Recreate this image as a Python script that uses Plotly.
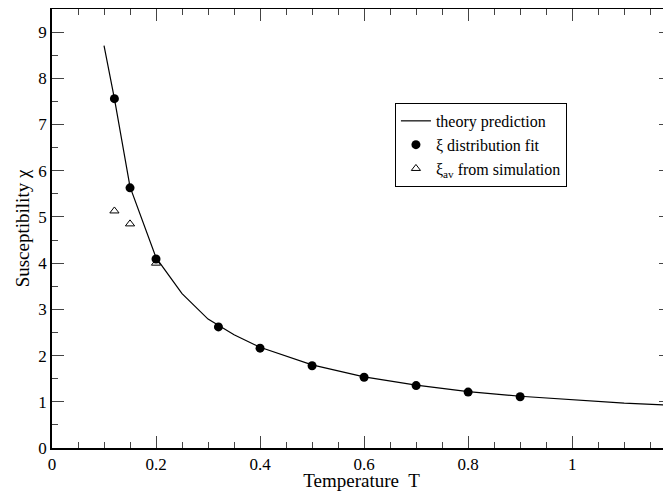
import plotly.graph_objects as go

# Theory prediction curve
theory_T = [0.10, 0.12, 0.15, 0.20, 0.25, 0.30, 0.35, 0.40, 0.50, 0.60, 0.70, 0.80, 0.90, 1.00, 1.10, 1.20]
theory_chi = [8.71, 7.56, 5.65, 4.12, 3.34, 2.79, 2.45, 2.18, 1.80, 1.54, 1.36, 1.22, 1.12, 1.04, 0.97, 0.92]

# xi distribution fit (filled circles)
fit_T = [0.12, 0.15, 0.20, 0.32, 0.40, 0.50, 0.60, 0.70, 0.80, 0.90]
fit_chi = [7.56, 5.63, 4.09, 2.62, 2.16, 1.78, 1.53, 1.35, 1.21, 1.11]

# xi_av from simulation (open triangles)
sim_T = [0.12, 0.15, 0.20]
sim_chi = [5.13, 4.85, 4.00]

serif = "Liberation Serif"

fig = go.Figure()
fig.add_trace(go.Scatter(x=theory_T, y=theory_chi, mode="lines",
                         line=dict(color="black", width=1.2),
                         name="theory prediction"))
fig.add_trace(go.Scatter(x=fit_T, y=fit_chi, mode="markers",
                         marker=dict(symbol="circle", size=9, color="black"),
                         name="ξ distribution fit"))
fig.add_trace(go.Scatter(x=sim_T, y=sim_chi, mode="markers",
                         marker=dict(symbol="triangle-up-open", size=8, color="black",
                                     line=dict(width=1, color="black")),
                         name="ξ<sub>av</sub> from simulation"))

axis_common = dict(
    showgrid=False, zeroline=False, automargin=False,
    showline=True, linecolor="black", linewidth=1.5, mirror="allticks",
    ticks="inside", ticklen=12, tickwidth=1, tickcolor="#444",
    tickfont=dict(family=serif, size=17, color="black"),
)

fig.update_layout(
    width=663, height=483,
    margin=dict(l=44, r=0, t=1, b=43),
    paper_bgcolor="white", plot_bgcolor="white",
    font=dict(family=serif, color="black"),
    xaxis=dict(range=[0, 1.19], tickvals=[0, 0.2, 0.4, 0.6, 0.8, 1.0],
               ticktext=["0", "0.2", "0.4", "0.6", "0.8", "1"],
               minor=dict(dtick=0.05, tick0=0, ticks="inside", ticklen=6, tickcolor="#444"),
               title=dict(text="Temperature  T", font=dict(family=serif, size=19), standoff=4),
               **axis_common),
    yaxis=dict(range=[0, 9.5], tickvals=list(range(0, 10)),
               minor=dict(dtick=0.5, tick0=0, ticks="inside", ticklen=6, tickcolor="#444"),
               title=dict(text="Susceptibility χ", font=dict(family=serif, size=19), standoff=4),
               **axis_common),
    legend=dict(x=0.554, y=0.786, xanchor="left", yanchor="top",
                bgcolor="white", bordercolor="black", borderwidth=1,
                font=dict(family=serif, size=16), tracegroupgap=0,
                itemwidth=30),
    showlegend=True,
)

fig.write_html("out.html")
